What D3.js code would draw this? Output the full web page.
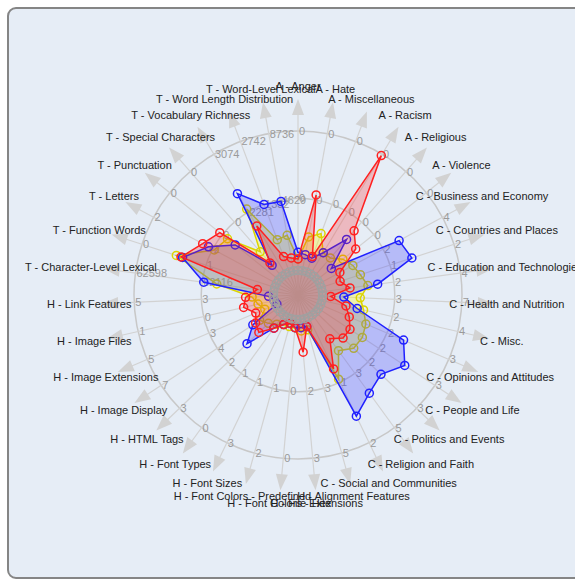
<!DOCTYPE html>
<html>
<head>
<meta charset="utf-8">
<script src="https://cdn.jsdelivr.net/npm/d3@7"></script>
<style>
body { margin: 0; background: #fff; }
text { font-family: "Liberation Sans", Arial, sans-serif; }
</style>
</head>
<body>
<script>
var axes = [
  "A - Anger", "A - Hate", "A - Miscellaneous", "A - Racism", "A - Religious", "A - Violence",
  "C - Business and Economy", "C - Countries and Places", "C - Education and Technologies",
  "C - Health and Nutrition", "C - Misc.", "C - Opinions and Attitudes", "C - People and Life",
  "C - Politics and Events", "C - Religion and Faith", "C - Social and Communities",
  "H - Alignment Features", "H - File Extensions", "H - Font Colors - Hex", "H - Font Colors - Predefined",
  "H - Font Sizes", "H - Font Types", "H - HTML Tags", "H - Image Display", "H - Image Extensions",
  "H - Image Files", "H - Link Features",
  "T - Character-Level Lexical", "T - Function Words", "T - Letters", "T - Punctuation",
  "T - Special Characters", "T - Vocabulary Richness", "T - Word Length Distribution", "T - Word-Level Lexical"
];

// per-axis tick labels on the two grid rings
var innerTicks = [0,0,0,0,0,0,2,1,2,3,2,2,2,2,3,1,3,2,0,1,1,1,2,4,3,0,3,62116,1,2,0,0,2281,1332,4629];
var outerTicks = [0,0,0,0,0,0,4,2,4,7,4,3,3,3,5,2,5,3,0,2,3,0,3,7,5,1,5,62598,0,2,0,0,3074,2742,8736];

// series values, as a share of the outer ring
var yellowValues = [0.22,0.36,0.40,0.30,0.30,0.35,0.38,0.40,0.43,0.38,0.41,0.45,0.47,0.47,0.42,0.57,
  0.22,0.22,0.20,0.20,0.20,0.22,0.25,0.28,0.22,0.25,0.28,0.50,0.78,0.58,0.55,0.35,0.61,0.36,0.37];
var blueValues = [0.26,0.25,0.24,0.30,0.45,0.26,0.70,0.73,0.49,0.28,0.37,0.70,0.78,0.70,0.74,0.82,
  0.20,0.20,0.20,0.18,0.20,0.25,0.43,0.33,0.14,0.15,0.18,0.58,0.74,0.62,0.49,0.24,0.72,0.59,0.58];
var redValues = [0.22,0.62,0.25,0.99,0.52,0.45,0.29,0.27,0.32,0.20,0.30,0.34,0.38,0.38,0.33,0.50,
  0.20,0.35,0.20,0.18,0.20,0.25,0.33,0.31,0.28,0.34,0.32,0.25,0.75,0.66,0.61,0.26,0.49,0.25,0.23];
var greyValues = [0.15,0.15,0.15,0.15,0.15,0.15,0.15,0.15,0.15,0.15,0.15,0.15,0.15,0.15,0.15,0.15,
  0.15,0.15,0.15,0.15,0.15,0.15,0.15,0.15,0.15,0.15,0.15,0.15,0.15,0.15,0.15,0.15,0.15,0.15,0.15];

var width = 575;
var height = 581;
var cx = 298, cy = 295, R = 164;

var svg = d3.select("body").append("svg")
    .attr("width", width)
    .attr("height", height);

svg.append("rect")
    .attr("x", 8).attr("y", 8)
    .attr("width", 620).attr("height", 570)
    .attr("rx", 8)
    .attr("fill", "#e6edf6")
    .attr("stroke", "#858585")
    .attr("stroke-width", 2);

var g = svg.append("g").attr("transform", "translate(" + cx + "," + cy + ")");

var angle = d3.scaleLinear().domain([0, axes.length]).range([0, 2 * Math.PI]);
var r = d3.scaleLinear().domain([0, 1]).range([0, R]);

function px(i, v) { return r(v) * Math.sin(angle(i)); }
function py(i, v) { return -r(v) * Math.cos(angle(i)); }

// grid rings
var rings = [0.59, 1];
g.selectAll("circle.ring").data(rings).enter().append("circle")
    .attr("class", "ring")
    .attr("r", function(d) { return r(d); })
    .attr("fill", "none")
    .attr("stroke", "#c8c8c8")
    .attr("stroke-width", 1.5);

// axis lines + arrow heads
var ax = g.selectAll("g.axis").data(axes).enter().append("g")
    .attr("class", "axis")
    .attr("transform", function(d, i) { return "rotate(" + (angle(i) * 180 / Math.PI) + ")"; });

ax.append("line")
    .attr("x1", 0).attr("y1", 0)
    .attr("x2", 0).attr("y2", -182)
    .attr("stroke", "#d2d2d2")
    .attr("stroke-width", 1.2);

ax.append("path")
    .attr("d", "M-6,-180L6,-180L0,-196Z")
    .attr("fill", "#d2d2d2");

// tick labels
function tickLabels(vals, level) {
  g.selectAll(null).data(vals).enter().append("text")
      .attr("x", function(d, i) { return px(i, level) + 1; })
      .attr("y", function(d, i) { return py(i, level) + 4; })
      .attr("font-size", 11)
      .attr("fill", "#9a9a9a")
      .text(function(d) { return d; });
}
tickLabels(innerTicks, rings[0]);
tickLabels(outerTicks, rings[1]);

// axis names
g.selectAll("text.label").data(axes).enter().append("text")
    .attr("class", "label")
    .attr("x", function(d, i) { return 209 * Math.sin(angle(i)); })
    .attr("y", function(d, i) { return -209 * Math.cos(angle(i)); })
    .attr("dy", "0.35em")
    .attr("text-anchor", "middle")
    .attr("font-size", 11)
    .attr("fill", "#222")
    .text(function(d) { return d; });

var radar = d3.lineRadial()
    .angle(function(d, i) { return angle(i); })
    .radius(function(d) { return r(d); })
    .curve(d3.curveLinearClosed);

var series = [
  { values: yellowValues, stroke: "#dcd400", fill: "rgba(255,250,0,0.30)" },
  { values: blueValues, stroke: "#2020ff", fill: "rgba(40,40,255,0.25)" },
  { values: redValues, stroke: "#ff2020", fill: "rgba(255,30,30,0.25)" },
  { values: greyValues, stroke: "#a0a0a0", fill: "rgba(150,150,150,0.15)" }
];

series.forEach(function(s) {
  var sg = g.append("g");
  sg.append("path")
      .datum(s.values)
      .attr("d", radar)
      .attr("fill", s.fill)
      .attr("stroke", s.stroke)
      .attr("stroke-width", 1.5);
  sg.selectAll("circle").data(s.values).enter().append("circle")
      .attr("cx", function(d, i) { return px(i, d); })
      .attr("cy", function(d, i) { return py(i, d); })
      .attr("r", 4)
      .attr("fill", "none")
      .attr("stroke", s.stroke)
      .attr("stroke-width", 1.5);
});
</script>
</body>
</html>
